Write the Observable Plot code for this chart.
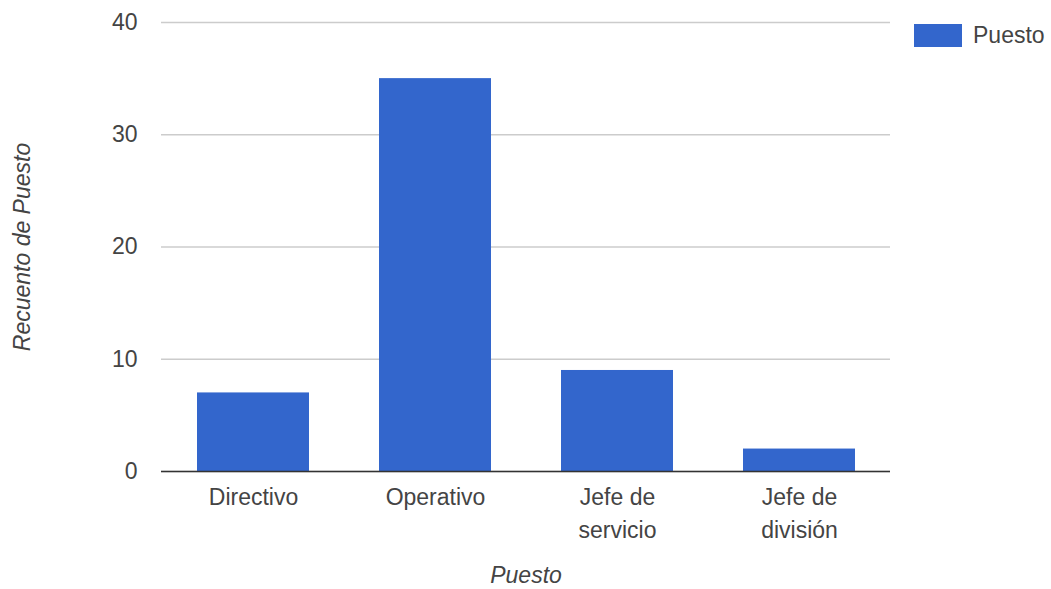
<!DOCTYPE html>
<html>
<head>
<meta charset="utf-8">
<script src="https://cdn.jsdelivr.net/npm/d3@7"></script>
<script src="https://cdn.jsdelivr.net/npm/@observablehq/plot@0.6"></script>
<style>
  html, body { margin: 0; padding: 0; background: #fff; }
  #wrap { position: relative; width: 1051px; height: 589px; font-family: "Liberation Sans", Arial, Helvetica, sans-serif; }
  #legend { position: absolute; left: 914px; top: 22px; display: flex; align-items: center; font-size: 23px; color: #444; }
  #legend .sw { width: 48px; height: 23px; background: #3366cc; margin-right: 11px; }
</style>
</head>
<body>
<div id="wrap">
  <div id="chart"></div>
  <div id="legend"><span class="sw"></span><span>Puesto</span></div>
</div>
<script>
// Recuento de cada puesto
const categories = ["Directivo", "Operativo", "Jefe de servicio", "Jefe de división"];
const tickLabels = ["Directivo", "Operativo", "Jefe de\nservicio", "Jefe de\ndivisión"];
const counts = [7, 35, 9, 2];
const yTicks = [0, 10, 20, 30, 40];

const data = categories.map((c, i) => ({puesto: c, recuento: counts[i]}));
const labelOf = new Map(categories.map((c, i) => [c, tickLabels[i]]));

const chart = Plot.plot({
  width: 1051,
  height: 589,
  marginTop: 22,
  marginBottom: 118,
  marginLeft: 161,
  marginRight: 161,
  style: {fontFamily: "'Liberation Sans', Arial, Helvetica, sans-serif", fontSize: "23px", color: "#444", background: "#fff"},
  x: {domain: categories, paddingInner: 0.385, paddingOuter: 0.1925, label: null},
  y: {domain: [0, 40], label: null},
  marks: [
    Plot.gridY(yTicks, {stroke: "#ccc", strokeOpacity: 1, strokeWidth: 1.3}),
    Plot.axisY(yTicks, {tickSize: 0, tickPadding: 24, fontSize: 23, fill: "#444", label: null}),
    Plot.barY(data, {x: "puesto", y: "recuento", fill: "#3366cc"}),
    Plot.ruleY([0], {stroke: "#333", strokeWidth: 1.5}),
    Plot.axisX({tickSize: 0, tickPadding: 11, fontSize: 23, fill: "#444", lineHeight: 1.4,
      tickFormat: d => labelOf.get(d), label: null}),
    Plot.text(["Recuento de Puesto"], {frameAnchor: "left", textAnchor: "middle", rotate: -90, dx: -139,
      fontStyle: "italic", fontSize: 23, fill: "#444"}),
    Plot.text(["Puesto"], {frameAnchor: "bottom", dy: 111, fontStyle: "italic",
      fontSize: 23, fill: "#444"})
  ]
});
document.getElementById("chart").appendChild(chart);
</script>
</body>
</html>
